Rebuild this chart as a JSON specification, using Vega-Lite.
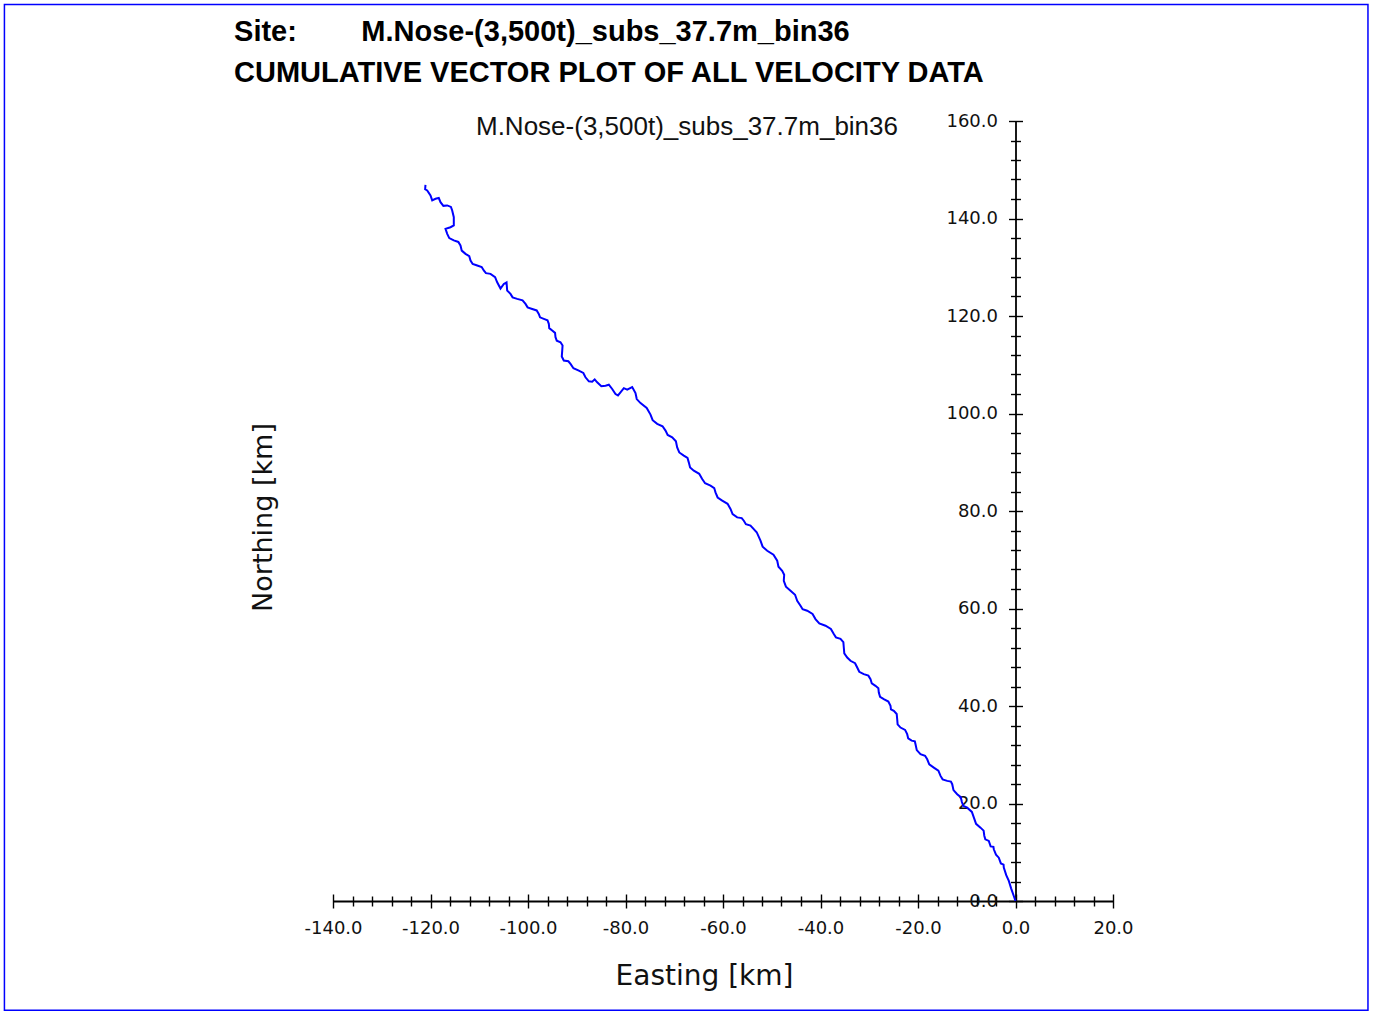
{
  "$schema": "https://vega.github.io/schema/vega-lite/v6.json",
  "width": 780,
  "height": 780,
  "autosize": "none",
  "padding": {"left": 333, "top": 121, "right": 261, "bottom": 113},
  "background": "white",
  "config": {
    "view": {"stroke": null},
    "axis": {
      "grid": false,
      "domainColor": "black",
      "domainWidth": 1.8,
      "tickColor": "black",
      "tickWidth": 1.4,
      "labelColor": "#111111",
      "labelFont": "DejaVu Sans",
      "labelFontSize": 18,
      "titleFont": "DejaVu Sans",
      "titleColor": "#111111",
      "titleFontWeight": "normal",
      "labelOverlap": false,
      "labelFlush": false
    }
  },
  "data": {
    "values": [
      {"i":0,"easting":0,"northing":0},
      {"i":1,"easting":-0.35,"northing":1.03},
      {"i":2,"easting":-0.9,"northing":2.6},
      {"i":3,"easting":-1.37,"northing":4.11},
      {"i":4,"easting":-1.9,"northing":5.3},
      {"i":5,"easting":-2.4,"northing":6.84},
      {"i":5.5,"easting":-2.45,"northing":7.47},
      {"i":6,"easting":-3.0,"northing":7.7},
      {"i":7,"easting":-3.43,"northing":8.89},
      {"i":8,"easting":-4.0,"northing":9.5},
      {"i":9,"easting":-4.45,"northing":10.61},
      {"i":9.5,"easting":-4.53,"northing":11.1},
      {"i":10,"easting":-5.1,"northing":11.2},
      {"i":11,"easting":-5.48,"northing":12.32},
      {"i":11.5,"easting":-6.19,"northing":12.66},
      {"i":12,"easting":-6.4,"northing":13.4},
      {"i":12.5,"easting":-6.54,"northing":14.43},
      {"i":13,"easting":-7.18,"northing":15.05},
      {"i":13.5,"easting":-8.09,"northing":15.83},
      {"i":14,"easting":-8.5,"northing":17.0},
      {"i":14.5,"easting":-8.95,"northing":18.28},
      {"i":15,"easting":-9.91,"northing":19.15},
      {"i":15.5,"easting":-10.71,"northing":19.53},
      {"i":16,"easting":-11.0,"northing":20.3},
      {"i":16.5,"easting":-11.23,"northing":21.3},
      {"i":17,"easting":-11.96,"northing":21.91},
      {"i":17.5,"easting":-12.72,"northing":22.74},
      {"i":18,"easting":-12.98,"northing":23.96},
      {"i":18.5,"easting":-13.25,"northing":24.5},
      {"i":19,"easting":-14.01,"northing":24.64},
      {"i":19.5,"easting":-14.95,"northing":24.95},
      {"i":20,"easting":-15.38,"northing":25.66},
      {"i":20.5,"easting":-15.82,"northing":26.72},
      {"i":21,"easting":-16.76,"northing":27.37},
      {"i":21.5,"easting":-17.69,"northing":28.02},
      {"i":22,"easting":-18.11,"northing":29.07},
      {"i":22.5,"easting":-18.55,"northing":29.8},
      {"i":23,"easting":-19.49,"northing":30.12},
      {"i":23.5,"easting":-20.25,"northing":30.95},
      {"i":24,"easting":-20.51,"northing":32.17},
      {"i":24.5,"easting":-20.65,"northing":32.74},
      {"i":25,"easting":-21.3,"northing":32.9},
      {"i":25.5,"easting":-22.01,"northing":33.36},
      {"i":26,"easting":-22.22,"northing":34.22},
      {"i":26.5,"easting":-22.65,"northing":35.1},
      {"i":27,"easting":-23.59,"northing":35.58},
      {"i":27.5,"easting":-24.18,"northing":36.24},
      {"i":28,"easting":-24.27,"northing":37.3},
      {"i":28.5,"easting":-24.37,"northing":38.36},
      {"i":29,"easting":-24.96,"northing":39.01},
      {"i":29.5,"easting":-25.55,"northing":39.32},
      {"i":30,"easting":-25.64,"northing":40.03},
      {"i":30.5,"easting":-26.08,"northing":40.92},
      {"i":31,"easting":-27.02,"northing":41.41},
      {"i":31.5,"easting":-27.78,"northing":41.89},
      {"i":32,"easting":-28.04,"northing":42.76},
      {"i":32.5,"easting":-28.13,"northing":43.65},
      {"i":33,"easting":-28.72,"northing":44.14},
      {"i":33.5,"easting":-29.48,"northing":44.63},
      {"i":34,"easting":-29.74,"northing":45.51},
      {"i":34.5,"easting":-30.18,"northing":46.23},
      {"i":35,"easting":-31.12,"northing":46.54},
      {"i":35.5,"easting":-32.05,"northing":47.02},
      {"i":36,"easting":-32.47,"northing":47.89},
      {"i":36.5,"easting":-32.91,"northing":48.78},
      {"i":37,"easting":-33.85,"northing":49.27},
      {"i":38,"easting":-34.52,"northing":49.95},
      {"i":38.5,"easting":-35.12,"northing":50.78},
      {"i":39,"easting":-35.22,"northing":52.0},
      {"i":39.5,"easting":-35.31,"northing":53.1},
      {"i":40,"easting":-35.9,"northing":53.79},
      {"i":40.5,"easting":-36.84,"northing":54.07},
      {"i":41,"easting":-37.27,"northing":54.75},
      {"i":41.5,"easting":-37.87,"northing":55.8},
      {"i":42,"easting":-38.97,"northing":56.46},
      {"i":42.5,"easting":-40.25,"northing":56.95},
      {"i":43,"easting":-41.03,"northing":57.83},
      {"i":43.5,"easting":-41.63,"northing":58.89},
      {"i":44,"easting":-42.73,"northing":59.54},
      {"i":44.5,"easting":-43.67,"northing":59.85},
      {"i":45,"easting":-44.1,"northing":60.56},
      {"i":46,"easting":-44.78,"northing":61.59},
      {"i":46.5,"easting":-45.22,"northing":62.82},
      {"i":47,"easting":-46.15,"northing":63.64},
      {"i":47.5,"easting":-47.09,"northing":64.47},
      {"i":48,"easting":-47.53,"northing":65.69},
      {"i":48.5,"easting":-47.45,"northing":66.92},
      {"i":49,"easting":-47.86,"northing":67.75},
      {"i":49.5,"easting":-48.62,"northing":68.58},
      {"i":50,"easting":-48.88,"northing":69.8},
      {"i":50.5,"easting":-49.65,"northing":71.03},
      {"i":51,"easting":-50.93,"northing":71.85},
      {"i":51.5,"easting":-51.87,"northing":72.68},
      {"i":52,"easting":-52.31,"northing":73.91},
      {"i":52.5,"easting":-53.09,"northing":75.65},
      {"i":53,"easting":-54.36,"northing":76.99},
      {"i":53.5,"easting":-55.3,"northing":77.3},
      {"i":54,"easting":-55.73,"northing":78.01},
      {"i":54.5,"easting":-56.16,"northing":78.55},
      {"i":55,"easting":-57.09,"northing":78.69},
      {"i":55.5,"easting":-58.03,"northing":79.36},
      {"i":56,"easting":-58.46,"northing":80.42},
      {"i":56.5,"easting":-59.06,"northing":81.47},
      {"i":57,"easting":-60.16,"northing":82.12},
      {"i":57.5,"easting":-61.1,"northing":82.77},
      {"i":58,"easting":-61.54,"northing":83.82},
      {"i":58.5,"easting":-61.8,"northing":84.71},
      {"i":59,"easting":-62.56,"northing":85.2},
      {"i":59.5,"easting":-63.67,"northing":85.69},
      {"i":60,"easting":-64.27,"northing":86.57},
      {"i":60.5,"easting":-64.88,"northing":87.63},
      {"i":61,"easting":-65.99,"northing":88.28},
      {"i":61.5,"easting":-66.75,"northing":88.93},
      {"i":62,"easting":-67.02,"northing":89.98},
      {"i":62.5,"easting":-67.28,"northing":90.87},
      {"i":63,"easting":-68.04,"northing":91.36},
      {"i":63.5,"easting":-68.97,"northing":92.01},
      {"i":64,"easting":-69.4,"northing":93.06},
      {"i":64.5,"easting":-69.66,"northing":94.29},
      {"i":65,"easting":-70.42,"northing":95.12},
      {"i":65.5,"easting":-71.35,"northing":95.6},
      {"i":66,"easting":-71.79,"northing":96.49},
      {"i":66.5,"easting":-72.4,"northing":97.38},
      {"i":67,"easting":-73.5,"northing":97.87},
      {"i":67.5,"easting":-74.43,"northing":98.62},
      {"i":68,"easting":-74.87,"northing":99.77},
      {"i":68.5,"easting":-75.65,"northing":101.15},
      {"i":69,"easting":-76.92,"northing":102.13},
      {"i":69.5,"easting":-77.69,"northing":102.96},
      {"i":70,"easting":-77.95,"northing":104.19},
      {"i":71,"easting":-78.63,"northing":105.42},
      {"i":72,"easting":-79.65,"northing":104.91},
      {"i":72.5,"easting":-80.34,"northing":105.2},
      {"i":73,"easting":-81.03,"northing":104.35},
      {"i":73.5,"easting":-81.54,"northing":103.7},
      {"i":74,"easting":-82.05,"northing":104.0},
      {"i":75,"easting":-82.73,"northing":105.03},
      {"i":75.5,"easting":-83.42,"northing":105.9},
      {"i":76,"easting":-84.1,"northing":105.71},
      {"i":76.5,"easting":-84.96,"northing":105.6},
      {"i":77,"easting":-85.81,"northing":106.39},
      {"i":77.5,"easting":-86.32,"northing":107.0},
      {"i":78,"easting":-86.83,"northing":106.53},
      {"i":78.5,"easting":-87.52,"northing":106.6},
      {"i":79,"easting":-88.21,"northing":107.43},
      {"i":79.5,"easting":-88.65,"northing":108.32},
      {"i":80,"easting":-89.58,"northing":108.81},
      {"i":80.5,"easting":-90.68,"northing":109.29},
      {"i":81,"easting":-91.28,"northing":110.16},
      {"i":81.5,"easting":-91.72,"northing":110.71},
      {"i":82,"easting":-92.66,"northing":110.86},
      {"i":82.5,"easting":-93.07,"northing":111.69},
      {"i":83,"easting":-92.98,"northing":112.91},
      {"i":83.5,"easting":-92.91,"northing":113.96},
      {"i":84,"easting":-93.33,"northing":114.61},
      {"i":84.5,"easting":-94.1,"northing":114.94},
      {"i":85,"easting":-94.36,"northing":115.66},
      {"i":85.5,"easting":-94.45,"northing":116.54},
      {"i":86,"easting":-95.04,"northing":117.02},
      {"i":86.5,"easting":-95.64,"northing":117.51},
      {"i":87,"easting":-95.73,"northing":118.4},
      {"i":87.5,"easting":-96.0,"northing":119.1},
      {"i":88,"easting":-96.76,"northing":119.4},
      {"i":88.5,"easting":-97.53,"northing":119.72},
      {"i":89,"easting":-97.79,"northing":120.43},
      {"i":89.5,"easting":-98.22,"northing":121.14},
      {"i":90,"easting":-99.14,"northing":121.45},
      {"i":90.5,"easting":-100.08,"northing":121.77},
      {"i":91,"easting":-100.51,"northing":122.48},
      {"i":91.5,"easting":-101.12,"northing":123.2},
      {"i":92,"easting":-102.22,"northing":123.51},
      {"i":92.5,"easting":-103.16,"northing":123.82},
      {"i":93,"easting":-103.59,"northing":124.53},
      {"i":94,"easting":-104.27,"northing":125.23},
      {"i":94.5,"easting":-104.4,"northing":126.9},
      {"i":95,"easting":-104.96,"northing":126.58},
      {"i":96,"easting":-105.64,"northing":125.64},
      {"i":97,"easting":-106.32,"northing":126.92},
      {"i":97.5,"easting":-106.75,"northing":127.98},
      {"i":98,"easting":-107.69,"northing":128.64},
      {"i":98.5,"easting":-108.63,"northing":128.79},
      {"i":99,"easting":-109.07,"northing":129.34},
      {"i":99.5,"easting":-109.5,"northing":130.05},
      {"i":100,"easting":-110.42,"northing":130.36},
      {"i":100.5,"easting":-111.35,"northing":130.68},
      {"i":101,"easting":-111.79,"northing":131.39},
      {"i":101.5,"easting":-112.05,"northing":132.27},
      {"i":102,"easting":-112.82,"northing":132.75},
      {"i":102.5,"easting":-113.59,"northing":133.41},
      {"i":103,"easting":-113.85,"northing":134.47},
      {"i":103.5,"easting":-114.29,"northing":135.19},
      {"i":104,"easting":-115.22,"northing":135.5},
      {"i":104.5,"easting":-116.15,"northing":135.98},
      {"i":105,"easting":-116.57,"northing":136.85},
      {"i":106,"easting":-116.92,"northing":137.87},
      {"i":107,"easting":-115.9,"northing":138.21},
      {"i":108,"easting":-115.22,"northing":138.57},
      {"i":109,"easting":-115.22,"northing":140.27},
      {"i":110,"easting":-115.55,"northing":141.65},
      {"i":110.5,"easting":-115.81,"northing":142.37},
      {"i":111,"easting":-116.57,"northing":142.68},
      {"i":111.5,"easting":-117.36,"northing":142.6},
      {"i":112,"easting":-117.95,"northing":143.35},
      {"i":112.5,"easting":-118.3,"northing":144.2},
      {"i":113,"easting":-118.97,"northing":144.04},
      {"i":114,"easting":-119.65,"northing":143.71},
      {"i":115,"easting":-120.0,"northing":144.74},
      {"i":116,"easting":-120.68,"northing":145.76},
      {"i":116.5,"easting":-121.1,"northing":146.0},
      {"i":117,"easting":-121.03,"northing":146.89}
    ]
  },
  "layer": [
    {
      "mark": {"type": "line", "color": "#0000ff", "strokeWidth": 2},
      "encoding": {
        "x": {
          "field": "easting",
          "type": "quantitative",
          "scale": {"domain": [-140, 20], "nice": false, "zero": false},
          "axis": {
            "orient": "bottom",
            "title": "Easting [km]",
            "titleFontSize": 28,
            "titleX": 371,
            "titleY": 83,
            "titleAlign": "center",
            "titleBaseline": "alphabetic",
            "tickCount": 100,
            "values": [-140,-136,-132,-128,-124,-120,-116,-112,-108,-104,-100,-96,-92,-88,-84,-80,-76,-72,-68,-64,-60,-56,-52,-48,-44,-40,-36,-32,-28,-24,-20,-16,-12,-8,-4,0,4,8,12,16,20],
            "labelExpr": "datum.value % 20 === 0 ? (datum.value < 0 ? '-' : '') + format(abs(datum.value), '.1f') : ''",
            "tickSize": 7,
            "labelPadding": 11,
            "encoding": {
              "ticks": {
                "y": {"condition": {"test": "datum.value % 20 === 0", "value": -7}, "value": -5},
                "y2": {"condition": {"test": "datum.value % 20 === 0", "value": 7}, "value": 5}
              }
            }
          }
        },
        "y": {
          "field": "northing",
          "type": "quantitative",
          "scale": {"domain": [0, 160], "nice": false, "zero": false},
          "axis": {
            "orient": "left",
            "offset": -682.5,
            "title": "Northing [km]",
            "titleFontSize": 27,
            "titleAngle": 270,
            "titleX": -752,
            "titleY": 396,
            "titleAlign": "center",
            "titleBaseline": "middle",
            "tickCount": 100,
            "values": [0,4,8,12,16,20,24,28,32,36,40,44,48,52,56,60,64,68,72,76,80,84,88,92,96,100,104,108,112,116,120,124,128,132,136,140,144,148,152,156,160],
            "labelExpr": "datum.value % 20 === 0 ? format(datum.value, '.1f') : ''",
            "tickSize": 7,
            "labelPadding": 11,
            "encoding": {
              "ticks": {
                "x": {"condition": {"test": "datum.value % 20 === 0", "value": 7}, "value": 5},
                "x2": {"condition": {"test": "datum.value % 20 === 0", "value": -7}, "value": -5}
              }
            }
          }
        },
        "order": {"field": "i", "type": "quantitative"}
      }
    },
    {
      "data": {"values": [{"label": "M.Nose-(3,500t)_subs_37.7m_bin36"}]},
      "mark": {"type": "text", "font": "Liberation Sans", "fontSize": 26, "align": "right", "baseline": "alphabetic", "color": "#111111"},
      "encoding": {
        "x": {"datum": -24.1},
        "y": {"datum": 157.05},
        "text": {"field": "label"}
      }
    },
    {
      "data": {"values": [{}]},
      "mark": {"type": "text", "font": "Liberation Sans", "fontSize": 29, "fontWeight": "bold", "align": "left", "baseline": "alphabetic", "color": "black", "lineHeight": 41, "clip": false},
      "encoding": {
        "x": {"datum": -160.3},
        "y": {"datum": 176.47},
        "text": {"value": ["Site:\u00a0\u00a0\u00a0\u00a0\u00a0\u00a0\u00a0\u00a0M.Nose-(3,500t)_subs_37.7m_bin36", "CUMULATIVE VECTOR PLOT OF ALL VELOCITY DATA"]}
      }
    },
    {
      "data": {"values": [{}]},
      "mark": {"type": "rect", "fill": null, "stroke": "#0000ff", "strokeWidth": 1.5, "clip": false},
      "encoding": {
        "x": {"datum": -207.4},
        "x2": {"datum": 72.3},
        "y": {"datum": 183.9},
        "y2": {"datum": -22.4}
      }
    }
  ]
}
